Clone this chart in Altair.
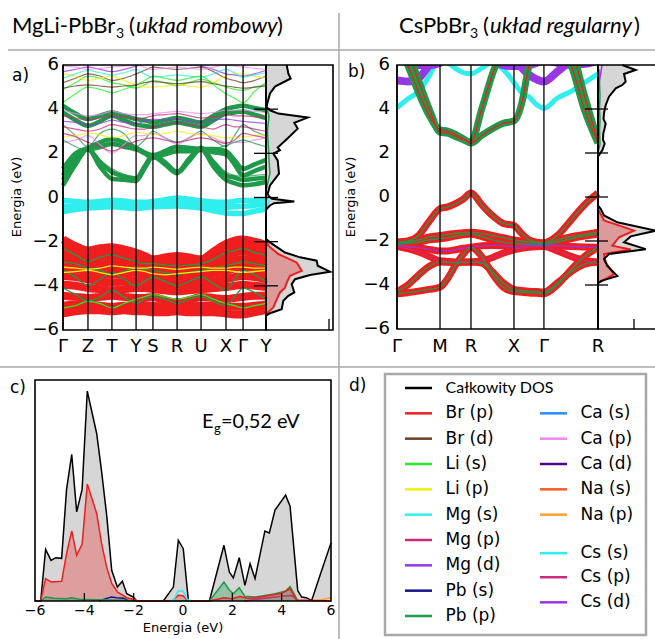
import altair as alt
import pandas as pd

# ---------------- orbital palette (legend order) ----------------
orbitals = ["Całkowity DOS", "Br (p)", "Br (d)", "Li (s)", "Li (p)", "Mg (s)", "Mg (p)", "Mg (d)",
            "Pb (s)", "Pb (p)", "Ca (s)", "Ca (p)", "Ca (d)", "Na (s)", "Na (p)", "Cs (s)", "Cs (p)", "Cs (d)"]
orbital_colors = ["#000000", "#f01e1e", "#6b4024", "#22ee22", "#f2f200", "#30eeee", "#cc2a7a", "#9a35e6",
                  "#14148c", "#1e9a4a", "#2a8cff", "#ee88ee", "#4a0a8a", "#ff5a28", "#ffa030", "#30eeee",
                  "#cc2a7a", "#9a35e6"]
C = dict(zip(orbitals, orbital_colors))
legend_left = orbitals[:10]
legend_right = orbitals[10:]
legend_right_slots = [1, 2, 3, 4, 5, 6.52, 7.47, 8.46]

# ---------------- panel a: MgLi-PbBr3, k-path ----------------
a_path_labels = ["Γ", "Z", "T", "Y", "S", "R", "U", "X", "Γ", "Y"]
a_path_k = [0.000, 0.123, 0.241, 0.360, 0.443, 0.562, 0.680, 0.803, 0.887, 1.000]
a_k = [0.000, 0.062, 0.123, 0.182, 0.241, 0.300, 0.360, 0.401, 0.443, 0.502,
       0.562, 0.621, 0.680, 0.741, 0.803, 0.845, 0.887, 0.943, 1.000]

# Br(p) valence bands (fat bands)
a_br_p = [
    [-1.9, -2.2, -2.4, -2.3, -2.25, -2.35, -2.5, -2.65, -2.8, -2.72, -2.65, -2.72, -2.8, -2.45, -2.1, -1.95, -1.9, -2.0, -2.15],
    [-2.15, -2.35, -2.55, -2.5, -2.45, -2.55, -2.65, -2.8, -2.95, -2.9, -2.85, -2.9, -2.95, -2.65, -2.35, -2.2, -2.15, -2.25, -2.4],
    [-2.45, -2.6, -2.75, -2.8, -2.8, -2.85, -2.9, -3.0, -3.1, -3.1, -3.05, -3.1, -3.1, -2.9, -2.65, -2.5, -2.45, -2.55, -2.7],
    [-2.8, -2.9, -3.05, -3.1, -3.15, -3.15, -3.15, -3.2, -3.3, -3.35, -3.35, -3.3, -3.3, -3.15, -3.0, -2.85, -2.8, -2.9, -3.0],
    [-3.15, -3.25, -3.35, -3.45, -3.5, -3.45, -3.4, -3.5, -3.6, -3.65, -3.7, -3.6, -3.55, -3.45, -3.35, -3.2, -3.15, -3.25, -3.35],
    [-3.55, -3.6, -3.7, -3.8, -3.85, -3.8, -3.75, -3.8, -3.85, -3.95, -4.0, -3.9, -3.85, -3.8, -3.7, -3.6, -3.55, -3.6, -3.7],
    [-3.95, -4.0, -4.1, -4.15, -4.2, -4.15, -4.1, -4.1, -4.15, -4.2, -4.25, -4.2, -4.15, -4.1, -4.05, -4.0, -3.95, -4.0, -4.05],
    [-4.45, -4.5, -4.55, -4.5, -4.45, -4.5, -4.55, -4.55, -4.5, -4.65, -4.75, -4.65, -4.5, -4.55, -4.6, -4.55, -4.5, -4.45, -4.45],
    [-4.9, -4.85, -4.85, -4.9, -4.95, -4.9, -4.9, -4.9, -4.9, -4.95, -5.0, -4.95, -4.9, -4.9, -4.95, -4.95, -4.95, -4.9, -4.85],
    [-5.25, -5.15, -5.1, -5.1, -5.15, -5.1, -5.15, -5.15, -5.2, -5.2, -5.15, -5.2, -5.2, -5.2, -5.25, -5.3, -5.3, -5.2, -5.1],
]
# thin lines running through the valence block
a_valence_thin_orb = ["Pb (p)", "Pb (p)", "Pb (p)", "Li (s)", "Li (p)", "Li (p)", "Pb (p)"]
a_valence_thin = [
    [-3.3, -3.6, -4.0, -3.7, -3.4, -3.7, -4.0, -3.8, -3.6, -3.8, -4.0, -3.8, -3.6, -3.9, -4.2, -3.7, -3.3, -3.5, -3.8],
    [-4.1, -4.4, -4.7, -4.5, -4.2, -4.5, -4.8, -4.6, -4.5, -4.6, -4.8, -4.6, -4.5, -4.7, -4.9, -4.5, -4.1, -4.3, -4.6],
    [-2.9, -3.0, -3.2, -3.3, -3.5, -3.35, -3.2, -3.25, -3.3, -3.4, -3.5, -3.4, -3.3, -3.2, -3.1, -3.0, -2.9, -3.0, -3.1],
    [-5.0, -4.9, -4.7, -4.8, -5.0, -4.8, -4.6, -4.5, -4.4, -4.5, -4.6, -4.5, -4.4, -4.6, -4.8, -4.9, -5.0, -4.9, -4.8],
    [-3.4, -3.35, -3.3, -3.4, -3.5, -3.4, -3.3, -3.35, -3.45, -3.5, -3.45, -3.4, -3.35, -3.3, -3.3, -3.35, -3.4, -3.35, -3.3],
    [-3.15, -3.2, -3.25, -3.2, -3.1, -3.15, -3.2, -3.2, -3.15, -3.2, -3.25, -3.2, -3.15, -3.2, -3.2, -3.15, -3.15, -3.2, -3.2],
    [-2.3, -2.6, -2.9, -2.7, -2.6, -2.75, -2.9, -3.0, -3.0, -3.05, -3.1, -3.05, -3.0, -2.8, -2.5, -2.4, -2.3, -2.5, -2.6],
]
# Mg(s) bands just below the Fermi level
a_mg_s = [
    [-0.12, -0.18, -0.22, -0.18, -0.12, -0.16, -0.22, -0.22, -0.18, -0.1, -0.02, -0.08, -0.15, -0.2, -0.22, -0.17, -0.12, -0.14, -0.16],
    [-0.4, -0.38, -0.34, -0.3, -0.28, -0.3, -0.34, -0.34, -0.3, -0.26, -0.22, -0.28, -0.34, -0.4, -0.45, -0.42, -0.4, -0.36, -0.3],
    [-0.65, -0.55, -0.48, -0.44, -0.42, -0.45, -0.5, -0.46, -0.42, -0.4, -0.38, -0.42, -0.48, -0.6, -0.7, -0.72, -0.72, -0.62, -0.52],
]
# Pb(p) conduction bands (fat bands)
a_pb_p = [
    [0.55, 1.5, 2.2, 1.4, 0.85, 0.8, 0.75, 1.3, 1.85, 1.5, 1.1, 1.65, 2.2, 1.4, 0.8, 0.65, 0.55, 0.6, 0.7],
    [0.8, 1.7, 2.2, 1.6, 1.15, 0.95, 0.85, 1.4, 1.9, 1.6, 1.15, 1.75, 2.25, 1.6, 1.0, 0.9, 0.8, 0.85, 0.9],
    [1.3, 2.0, 2.25, 2.5, 2.65, 2.5, 2.25, 2.05, 1.9, 2.1, 2.3, 2.25, 2.2, 2.2, 2.1, 1.7, 1.3, 1.5, 1.7],
    [1.0, 1.8, 2.2, 2.3, 2.45, 2.3, 2.2, 2.0, 1.8, 1.95, 2.1, 2.1, 2.15, 2.05, 1.95, 1.5, 1.0, 1.2, 1.4],
    [4.15, 3.8, 3.55, 3.7, 3.85, 3.7, 3.55, 3.5, 3.4, 3.5, 3.6, 3.5, 3.4, 3.7, 4.0, 4.1, 4.15, 4.05, 3.95],
    [3.85, 3.5, 3.25, 3.45, 3.7, 3.5, 3.3, 3.25, 3.2, 3.3, 3.4, 3.3, 3.2, 3.5, 3.8, 3.85, 3.9, 3.75, 3.6],
]
# thin conduction lines
a_cond_thin_orb = ["Pb (p)", "Mg (p)", "Mg (p)", "Ca (p)", "Mg (d)", "Li (p)", "Ca (p)",
                   "Br (d)", "Li (s)", "Li (p)", "Mg (d)", "Ca (p)", "Mg (s)", "Li (s)", "Br (d)",
                   "Pb (p)", "Pb (p)", "Mg (p)"]
a_cond_thin = [
    [3.3, 2.8, 2.3, 2.9, 3.1, 2.9, 2.3, 2.6, 3.0, 2.7, 2.5, 2.7, 3.0, 2.6, 2.3, 2.8, 3.3, 3.0, 2.8],
    [3.7, 3.6, 3.5, 3.6, 3.7, 3.65, 3.55, 3.6, 3.7, 3.75, 3.8, 3.7, 3.6, 3.65, 3.75, 3.7, 3.7, 3.65, 3.6],
    [3.2, 3.1, 3.0, 3.1, 3.3, 3.2, 3.1, 3.1, 3.2, 3.3, 3.4, 3.3, 3.2, 3.1, 3.3, 3.2, 3.2, 3.1, 3.0],
    [2.5, 2.6, 2.8, 2.4, 2.0, 2.4, 2.8, 2.8, 2.9, 2.7, 2.4, 2.7, 2.9, 2.7, 2.5, 2.5, 2.5, 2.6, 2.7],
    [3.45, 3.4, 3.3, 3.35, 3.5, 3.4, 3.35, 3.45, 3.55, 3.5, 3.55, 3.45, 3.4, 3.5, 3.55, 3.5, 3.45, 3.4, 3.35],
    [2.75, 2.8, 2.9, 2.85, 2.7, 2.8, 2.95, 2.9, 2.85, 2.9, 3.0, 2.9, 2.85, 2.8, 2.7, 2.75, 2.75, 2.8, 2.85],
    [3.95, 3.8, 3.7, 3.75, 3.9, 3.8, 3.75, 3.75, 3.8, 3.85, 3.9, 3.85, 3.8, 3.85, 3.95, 3.95, 3.95, 3.9, 3.85],
    [5.2, 5.4, 5.6, 5.5, 5.3, 5.4, 5.6, 5.75, 5.9, 5.85, 5.8, 5.85, 5.9, 5.7, 5.4, 5.3, 5.2, 5.3, 5.5],
    [4.9, 5.2, 5.5, 5.4, 5.2, 5.1, 4.95, 5.1, 5.3, 5.2, 5.05, 5.2, 5.35, 5.2, 5.0, 4.9, 4.85, 5.0, 5.1],
    [5.6, 5.5, 5.3, 5.4, 5.5, 5.3, 5.1, 5.0, 5.0, 5.05, 5.1, 5.05, 5.0, 5.2, 5.5, 5.6, 5.6, 5.5, 5.4],
    [5.7, 5.8, 5.9, 5.8, 5.7, 5.8, 5.95, 6.05, 6.1, 6.05, 6.0, 6.0, 5.95, 5.8, 5.6, 5.55, 5.5, 5.6, 5.75],
    [5.95, 5.9, 5.8, 5.85, 5.9, 5.95, 6.0, 5.9, 5.8, 5.85, 5.9, 5.85, 5.8, 5.9, 6.0, 5.95, 5.9, 5.85, 5.8],
    [5.4, 5.6, 5.75, 5.65, 5.55, 5.65, 5.8, 5.6, 5.45, 5.5, 5.55, 5.5, 5.45, 5.6, 5.8, 5.65, 5.45, 5.55, 5.65],
    [4.3, 4.7, 5.0, 4.9, 4.75, 4.9, 5.1, 5.3, 5.5, 5.4, 5.3, 5.4, 5.5, 5.1, 4.7, 4.5, 4.3, 4.8, 5.2],
    [4.95, 5.05, 5.1, 5.05, 5.0, 5.05, 5.1, 5.2, 5.25, 5.2, 5.15, 5.2, 5.25, 5.15, 5.05, 5.0, 4.95, 5.0, 5.05],
    [0.95, 1.75, 2.1, 1.7, 1.3, 1.05, 0.95, 1.45, 1.8, 1.55, 1.25, 1.8, 2.1, 1.7, 1.15, 1.0, 0.95, 1.0, 1.05],
    [2.6, 2.3, 2.1, 2.2, 2.35, 2.25, 2.1, 2.05, 2.0, 2.15, 2.35, 2.3, 2.1, 2.2, 2.35, 2.5, 2.6, 2.45, 2.3],
    [2.9, 2.75, 2.5, 2.3, 2.1, 2.3, 2.55, 2.65, 2.7, 2.6, 2.5, 2.6, 2.7, 2.6, 2.45, 2.6, 2.9, 2.8, 2.7],
]
# projected DOS next to the bands
a_dos_total_E = [-5.35, -5.24, -5.06, -4.68, -4.45, -4.30, -3.92, -3.70, -3.51, -3.36, -3.09, -2.86, -2.71,
                 -2.49, -2.03, -1.88, -0.60, -0.51, -0.36, -0.26, -0.18, -0.06, 0.05, 0.17, 0.55, 1.08, 1.68,
                 1.99, 2.14, 2.26, 2.71, 3.12, 3.38, 3.62, 3.80, 3.95, 4.10, 4.33, 4.71, 5.02, 5.39, 5.62, 6.0]
a_dos_total = [0, 4, 15.7, 17.3, 22.3, 28.3, 25.7, 29, 44, 64, 51.7, 50.7, 34,
               19, 4, 0, 0, 0.7, 4, 8, 28.3, 6, 3, 1.7, 4, 13, 11.7,
               7.3, 14, 11.7, 22.3, 31.7, 28.3, 41.7, 12.3, 4, 0.5, 1.7, 4, 9, 24.7, 22.3, 20.7]
a_dos_brp_E = [-5.3, -5.24, -4.98, -4.61, -4.30, -4.08, -3.85, -3.55, -3.32, -2.94, -2.56, -2.18, -1.88]
a_dos_brp = [0, 1, 7.3, 10.7, 14, 19, 20.7, 24, 35.7, 30.7, 12.3, 2.3, 0]
a_dos_pbp_E = [0.3, 0.6, 1.1, 1.7, 2.2, 3.0, 3.7, 4.0, 4.3]
a_dos_pbp = [0, 1.5, 4, 3, 2.5, 1.5, 3, 1, 0]
a_dos_mgs_E = [-0.5, -0.2, 0.1]
a_dos_mgs = [0, 3, 0]

# ---------------- panel b: CsPbBr3 ----------------
b_path_labels = ["Γ", "M", "R", "X", "Γ", "R"]
b_path_k = [0.0, 0.214, 0.368, 0.582, 0.731, 1.0]
b_k = [0.0, 0.0535, 0.107, 0.1605, 0.214, 0.2525, 0.291, 0.3295, 0.368, 0.4215, 0.475,
       0.5285, 0.582, 0.619, 0.657, 0.694, 0.731, 0.798, 0.866, 0.933, 1.0]
b_valence = [
    [-2.05, -2.0, -1.75, -1.1, -0.53, -0.45, -0.3, -0.1, 0.18, -0.35, -0.85, -1.2, -1.3, -1.65, -1.95, -2.05, -2.08, -1.75, -1.05, -0.35, 0.18],
    [-2.1, -2.05, -1.95, -1.82, -1.75, -1.7, -1.66, -1.62, -1.6, -1.65, -1.75, -1.85, -1.95, -2.0, -2.05, -2.08, -2.1, -1.95, -1.8, -1.7, -1.6],
    [-2.15, -2.1, -2.05, -1.95, -1.9, -1.85, -1.78, -1.72, -1.68, -1.8, -1.95, -2.05, -2.1, -2.12, -2.14, -2.15, -2.15, -2.05, -1.9, -1.78, -1.68],
    [-2.2, -2.25, -2.3, -2.38, -2.45, -2.45, -2.4, -2.33, -2.28, -2.22, -2.2, -2.22, -2.25, -2.23, -2.21, -2.2, -2.2, -2.22, -2.25, -2.27, -2.28],
    [-2.25, -2.35, -2.5, -2.7, -2.9, -2.93, -2.95, -2.95, -2.95, -2.9, -2.75, -2.55, -2.4, -2.33, -2.28, -2.26, -2.25, -2.45, -2.7, -2.88, -2.95],
    [-4.3, -4.0, -3.55, -3.15, -2.95, -2.97, -2.98, -2.97, -2.95, -3.0, -3.4, -3.9, -4.2, -4.25, -4.28, -4.3, -4.32, -3.9, -3.4, -3.05, -2.95],
    [-4.4, -4.35, -4.28, -4.2, -4.1, -3.7, -3.1, -2.6, -2.3, -2.7, -3.5, -4.1, -4.3, -4.33, -4.36, -4.38, -4.4, -4.0, -3.3, -2.7, -2.3],
]
b_valence_line_orb = ["Pb (p)", "Pb (p)", "Pb (p)", "Cs (d)", "Cs (p)", "Pb (p)", "Pb (p)"]
b_pb_p = [
    [7.0, 6.0, 4.75, 3.7, 3.05, 3.0, 2.85, 2.65, 2.45, 2.8, 3.1, 3.35, 3.45, 4.2, 6.0, 7.0, 7.5, 7.0, 6.0, 3.95, 2.45],
    [7.5, 6.6, 5.3, 4.0, 2.95, 2.9, 2.75, 2.6, 2.5, 4.0, 5.6, 6.8, 7.8, 7.8, 7.6, 7.5, 7.5, 7.6, 6.8, 4.6, 2.5],
]
b_cs_s = [[4.05, 4.45, 4.8, 5.5, 6.3, 6.1, 5.85, 5.65, 5.6, 5.85, 6.1, 5.8, 5.2, 4.75, 4.55, 4.2, 4.03, 4.5, 4.8, 5.2, 5.6]]
b_cs_d = [
    [5.3, 5.25, 5.4, 6.0, 6.5, 6.7, 6.8, 6.9, 7.0, 6.9, 6.6, 6.4, 6.3, 5.9, 5.55, 5.35, 5.25, 5.7, 6.2, 6.6, 7.0],
    [6.3, 6.1, 6.0, 6.0, 6.1, 6.3, 6.5, 6.6, 6.7, 6.5, 6.2, 6.0, 5.95, 5.95, 6.0, 6.1, 6.2, 6.1, 6.0, 6.05, 6.2],
]
b_dos_total_E = [-3.92, -3.81, -3.59, -3.13, -2.82, -2.59, -2.37, -2.06, -1.79, -1.53, -1.15, -0.84, -0.54,
                 -0.39, 1.85, 1.90, 2.12, 2.43, 2.6, 2.89, 3.1, 3.34, 3.55, 3.80, 4.18, 4.56, 4.94, 5.09,
                 5.24, 5.59, 5.77, 6.0]
b_dos_total = [0, 3.3, 19.3, 9.3, 6, 11, 47.7, 26, 32.7, 58, 19.3, 6, 2.7,
               0, 0, 1, 4.3, 6.7, 5, 5.3, 6.5, 7.7, 5.5, 6, 7.7, 11, 17.7, 24.3,
               27.7, 26, 37.7, 24.3]
b_dos_brp_E = [-3.9, -3.81, -3.51, -2.98, -2.59, -2.39, -2.21, -1.83, -1.53, -1.07, -0.54]
b_dos_brp = [0, 4.3, 16, 7.7, 6, 32.7, 14.3, 21, 36, 6, 0]
b_dos_pbp_E = [2.0, 2.4, 3.0, 3.5, 4.0, 4.6, 5.2, 5.8]
b_dos_pbp = [0, 2, 1.5, 2, 1.5, 2, 1.5, 1]
b_dos_csd_E = [4.8, 5.3, 5.7, 6.0]
b_dos_csd = [0, 1.5, 3, 4]

# ---------------- panel c: DOS of MgLi-PbBr3 ----------------
c_total_E = [-6.0, -5.77, -5.57, -5.35, -5.16, -4.92, -4.72, -4.51, -4.31, -4.09, -3.88, -3.5, -3.30, -3.09,
             -2.89, -2.66, -2.46, -2.28, -2.01, -1.88, -0.8, -0.39, -0.19, 0.01, 0.22, 1.07, 1.66, 1.88,
             2.04, 2.28, 2.51, 2.72, 2.92, 3.32, 3.50, 3.73, 4.16, 4.34, 4.65, 4.81, 4.99, 5.22, 5.58, 6.0]
c_total = [0, 0, 23.3, 18.4, 19.6, 19.3, 50.5, 66.3, 40.3, 50.5, 95.0, 75.8, 58.5, 38.4,
           13.9, 6.3, 8.9, 3.3, 1.8, 0, 0, 6.3, 27.5, 23.7, 0, 0, 25.2, 13.1,
           10.4, 19.6, 7.1, 16.9, 10.1, 31.7, 30.8, 41.1, 47.9, 42.9, 4.8, 1.8, 1.5, 0.3, 12.4, 26.3]
c_brp_E = [-6.0, -5.77, -5.57, -5.35, -4.92, -4.72, -4.51, -4.31, -4.09, -3.88, -3.5, -3.30, -3.09, -2.89,
           -2.66, -2.28, -1.95, -1.85, -0.45, -0.19, 0.0, 0.2, 1.07, 1.66, 2.0, 2.3, 2.6, 3.0, 3.5,
           4.0, 4.34, 4.6, 6.0]
c_brp = [0, 0, 10.1, 8.6, 8.9, 21.5, 31.7, 20.7, 25.7, 52.9, 39.6, 26.0, 15.1, 7.9,
         4.1, 1.5, 0.6, 0, 0, 2.6, 2.4, 0, 0, 1.5, 1.0, 2.0, 1.2, 1.5, 2.5,
         3.5, 5.5, 0.5, 0]
c_pbp_E = [-5.77, -5.57, -5.2, -4.72, -4.51, -4.2, -3.5, -2.9, -2.3, -1.9, 1.07, 1.66, 1.88, 2.04, 2.28,
           2.51, 2.92, 3.32, 3.73, 4.16, 4.34, 4.65]
c_pbp = [0, 1.8, 1.2, 1.0, 1.5, 0.8, 0.6, 0.5, 0.3, 0, 0, 8.6, 5, 3.3, 6.0,
         2.1, 1.8, 2.5, 3.3, 4.5, 6.6, 0.3]
c_mgs_E = [-0.5, -0.35, -0.2, 0.0, 0.15, 0.3]
c_mgs = [0, 1, 4.5, 4.5, 1, 0]
c_pbs_E = [-3.4, -3.1, -2.9, -2.7, -2.4, -2.2]
c_pbs = [0, 1.2, 1.8, 1.5, 1.2, 0]
c_mgp_E = [2.5, 3.0, 3.5, 4.0, 4.4, 4.7]
c_mgp = [0, 0.8, 1.5, 2.2, 2.5, 0]
c_nap_E = [5.2, 5.6, 6.0]
c_nap = [0, 0.6, 1.5]
c_ticks = [-6, -4, -2, 0, 2, 4, 6]
energy_ticks = [6, 4, 2, 0, -2, -4, -6]

# ---------------- helpers ----------------
SANS = "DejaVu Sans"
NARROW = "Lato"
GRAY_FILL = "#d6d6d6"


def sc(dom, rng):
    return alt.Scale(domain=dom, range=rng, nice=False, zero=False)


def lab(v):
    return str(v).replace("-", "\u2212")


XA, YA, XDA = sc([0, 1], [63, 266]), sc([-6, 6], [330, 65]), sc([0, 67], [266, 333])
XB, YB, XDB = sc([0, 1], [397, 598]), sc([-6, 6], [329, 65]), sc([0, 55], [598, 653])
XC, YC = sc([-6, 6], [35, 331]), sc([0, 100], [601, 380])
XL, YL = sc([0, 1], [405, 540]), sc([0, 9], [388, 616])


def band_table(kgrid, bands, orbs=None):
    rows = []
    for i, vals in enumerate(bands):
        for k, e in zip(kgrid, vals):
            rows.append({"k": k, "E": e, "band": i, "orb": orbs[i] if orbs else ""})
    return pd.DataFrame(rows)


def bands(kgrid, vals, xs, ys, width, color=None, orbs=None, opacity=1.0):
    df = band_table(kgrid, vals, orbs)
    enc = dict(x=alt.X("k:Q", scale=xs, axis=None), y=alt.Y("E:Q", scale=ys, axis=None),
               detail="band:N", order="k:Q")
    if orbs:
        enc["color"] = alt.Color("orb:N", scale=alt.Scale(domain=orbitals, range=orbital_colors), legend=None)
        mark = alt.Chart(df).mark_line(strokeWidth=width, interpolate="monotone", opacity=opacity)
    else:
        mark = alt.Chart(df).mark_line(strokeWidth=width, interpolate="monotone", color=color, opacity=opacity)
    return mark.encode(**enc)


def hdos_area(E, v, xs, ys, fill, opacity=1.0):
    df = pd.DataFrame({"E": E, "v": v})
    return alt.Chart(df).mark_area(orient="horizontal", color=fill, opacity=opacity).encode(
        x=alt.X("v:Q", scale=xs, axis=None, stack=None), y=alt.Y("E:Q", scale=ys, axis=None))


def hdos_line(E, v, xs, ys, color, width):
    df = pd.DataFrame({"E": E, "v": v})
    return alt.Chart(df).mark_line(color=color, strokeWidth=width).encode(
        x=alt.X("v:Q", scale=xs, axis=None), y=alt.Y("E:Q", scale=ys, axis=None), order="E:Q")


def vdos_area(E, v, fill, opacity=1.0):
    df = pd.DataFrame({"E": E, "v": v})
    return alt.Chart(df).mark_area(color=fill, opacity=opacity).encode(
        x=alt.X("E:Q", scale=XC, axis=None), y=alt.Y("v:Q", scale=YC, axis=None, stack=None))


def vdos_line(E, v, color, width=1.5):
    df = pd.DataFrame({"E": E, "v": v})
    return alt.Chart(df).mark_line(color=color, strokeWidth=width).encode(
        x=alt.X("E:Q", scale=XC, axis=None), y=alt.Y("v:Q", scale=YC, axis=None))


def frame(x0, x1, y0, y1, xs, ys, width=1.6):
    df = pd.DataFrame({"x0": [x0], "x1": [x1], "y0": [y0], "y1": [y1]})
    return alt.Chart(df).mark_rect(fillOpacity=0, stroke="black", strokeWidth=width).encode(
        x=alt.X("x0:Q", scale=xs, axis=None), x2="x1", y=alt.Y("y0:Q", scale=ys, axis=None), y2="y1")


def mask(x0, x1, y0, y1, xs, ys):
    df = pd.DataFrame({"x0": [x0], "x1": [x1], "y0": [y0], "y1": [y1]})
    return alt.Chart(df).mark_rect(color="white").encode(
        x=alt.X("x0:Q", scale=xs, axis=None), x2="x1", y=alt.Y("y0:Q", scale=ys, axis=None), y2="y1")


def kpoint_rules(kpos, xs, ys):
    df = pd.DataFrame({"k": kpos, "lo": -6, "hi": 6})
    return alt.Chart(df).mark_rule(color="black", strokeWidth=1.3).encode(
        x=alt.X("k:Q", scale=xs, axis=None), y=alt.Y("lo:Q", scale=ys, axis=None), y2="hi")


def kpoint_labels(kpos, labels, xs):
    df = pd.DataFrame({"k": kpos, "t": labels})
    return alt.Chart(df).mark_text(fontSize=18, font=SANS, baseline="alphabetic").encode(
        x=alt.X("k:Q", scale=xs, axis=None), y=alt.value(352), text="t:N")


def energy_labels(ys, xpix):
    df = pd.DataFrame({"E": energy_ticks, "t": [lab(v) for v in energy_ticks]})
    return alt.Chart(df).mark_text(fontSize=18, font=SANS, align="right", baseline="middle").encode(
        x=alt.value(xpix), y=alt.Y("E:Q", scale=ys, axis=None), text="t:N")


def mid_ticks(ys, x0, x1):
    df = pd.DataFrame({"E": [4, 2, 0, -2, -4]})
    return alt.Chart(df).mark_rule(color="black", strokeWidth=1.3).encode(
        x=alt.value(x0), x2=alt.value(x1), y=alt.Y("E:Q", scale=ys, axis=None))


def text(t, x, y, size, font=SANS, style="normal", align="left", angle=0, color="black"):
    props = dict(text=t, fontSize=size, font=font, fontStyle=style, align=align, baseline="alphabetic", color=color)
    if angle:
        props["angle"] = angle
        props["baseline"] = "middle"
        props["align"] = "center"
    return alt.Chart(pd.DataFrame({"a": [0]})).mark_text(**props).encode(x=alt.value(x), y=alt.value(y))


def hline(x0, x1, y, color="#a8a8a8", width=1.5):
    return alt.Chart(pd.DataFrame({"a": [0]})).mark_rule(color=color, strokeWidth=width).encode(
        x=alt.value(x0), x2=alt.value(x1), y=alt.value(y))


def vline(x, y0, y1, color="#a8a8a8", width=1.5):
    return alt.Chart(pd.DataFrame({"a": [0]})).mark_rule(color=color, strokeWidth=width).encode(
        x=alt.value(x), y=alt.value(y0), y2=alt.value(y1))


layers = []

# ---------------- panel a ----------------
layers += [
    bands(a_k, a_br_p, XA, YA, 8, color=C["Br (p)"]),
    bands(a_k, a_valence_thin, XA, YA, 1.3, orbs=a_valence_thin_orb),
    bands(a_k, a_mg_s, XA, YA, 5.5, color=C["Mg (s)"]),
    bands(a_k, a_pb_p, XA, YA, 4.5, color=C["Pb (p)"]),
    bands(a_k, a_cond_thin, XA, YA, 1.2, orbs=a_cond_thin_orb, opacity=0.75),
    mask(-0.05, 1.0, 6, 8.5, XA, YA),
    kpoint_rules(a_path_k, XA, YA),
    hdos_area(a_dos_total_E, a_dos_total, XDA, YA, GRAY_FILL),
    hdos_area(a_dos_brp_E, a_dos_brp, XDA, YA, "#dc9a9a"),
    hdos_line(a_dos_pbp_E, a_dos_pbp, XDA, YA, C["Pb (p)"], 1.5),
    hdos_line(a_dos_mgs_E, a_dos_mgs, XDA, YA, C["Mg (s)"], 1.5),
    hdos_line(a_dos_brp_E, a_dos_brp, XDA, YA, C["Br (p)"], 2),
    hdos_line(a_dos_total_E, a_dos_total, XDA, YA, "black", 2),
    frame(0, 1, -6, 6, XA, YA),
    frame(0, 67, -6, 6, XDA, YA),
    mid_ticks(YA, 254, 278),
    alt.Chart(pd.DataFrame({"v": [63], "lo": [-6], "hi": [-5.5]})).mark_rule(color="black", strokeWidth=1.3).encode(
        x=alt.X("v:Q", scale=XDA, axis=None), y=alt.Y("lo:Q", scale=YA, axis=None), y2="hi"),
    energy_labels(YA, 59),
    kpoint_labels(a_path_k, a_path_labels, XA),
    text("Energia (eV)", 17, 197, 13, angle=270),
    text("a)", 12, 81, 17),
]

# ---------------- panel b ----------------
layers += [
    bands(b_k, b_valence, XB, YB, 7, color=C["Br (p)"]),
    bands(b_k, b_valence, XB, YB, 1.3, orbs=b_valence_line_orb),
    bands(b_k, b_cs_s, XB, YB, 5, color=C["Cs (s)"]),
    bands(b_k, b_cs_d, XB, YB, 8, color=C["Cs (d)"]),
    bands(b_k, b_pb_p, XB, YB, 7, color=C["Pb (p)"]),
    bands(b_k, b_pb_p, XB, YB, 1.2, color=C["Br (p)"]),
    mask(-0.05, 1.03, 6, 9, XB, YB),
    kpoint_rules(b_path_k, XB, YB),
    hdos_area(b_dos_total_E, b_dos_total, XDB, YB, GRAY_FILL),
    hdos_area(b_dos_brp_E, b_dos_brp, XDB, YB, "#dc9a9a"),
    hdos_line(b_dos_pbp_E, b_dos_pbp, XDB, YB, C["Pb (p)"], 1.5),
    hdos_line(b_dos_csd_E, b_dos_csd, XDB, YB, C["Cs (d)"], 1.5),
    hdos_line(b_dos_brp_E, b_dos_brp, XDB, YB, C["Br (p)"], 2),
    hdos_line(b_dos_total_E, b_dos_total, XDB, YB, "black", 2),
    frame(0, 1, -6, 6, XB, YB),
    frame(0, 58, -6, 6, XDB, YB),
    mid_ticks(YB, 585, 608),
    alt.Chart(pd.DataFrame({"v": [36], "lo": [-6], "hi": [-5.55]})).mark_rule(color="black", strokeWidth=1.3).encode(
        x=alt.X("v:Q", scale=XDB, axis=None), y=alt.Y("lo:Q", scale=YB, axis=None), y2="hi"),
    energy_labels(YB, 390),
    kpoint_labels(b_path_k, b_path_labels, XB),
    text("Energia (eV)", 351, 197, 13, angle=270),
    text("b)", 348, 77, 17),
]

# ---------------- panel c ----------------
layers += [
    vdos_area(c_total_E, c_total, GRAY_FILL),
    vdos_area(c_brp_E, c_brp, C["Br (p)"], 0.3),
    vdos_area(c_pbp_E, c_pbp, C["Pb (p)"], 0.35),
    vdos_line(c_total_E, c_total, "black"),
    vdos_line(c_pbs_E, c_pbs, C["Pb (s)"]),
    vdos_line(c_mgp_E, c_mgp, C["Mg (p)"]),
    vdos_line(c_nap_E, c_nap, C["Na (p)"]),
    vdos_line(c_pbp_E, c_pbp, C["Pb (p)"]),
    vdos_line(c_brp_E, c_brp, C["Br (p)"]),
    vdos_line(c_mgs_E, c_mgs, C["Mg (s)"]),
    alt.Chart(pd.DataFrame({"E": [-4, -2, 2, 4], "lo": 0, "hi": 3.6})).mark_rule(color="black", strokeWidth=1.2).encode(
        x=alt.X("E:Q", scale=XC, axis=None), y=alt.Y("lo:Q", scale=YC, axis=None), y2="hi"),
    frame(-6, 6, 0, 100, XC, YC),
    alt.Chart(pd.DataFrame({"E": c_ticks, "t": [lab(v) for v in c_ticks]})).mark_text(
        fontSize=14, font=SANS, baseline="alphabetic").encode(
        x=alt.X("E:Q", scale=XC, axis=None), y=alt.value(615), text="t:N"),
    text("Energia (eV)", 183, 632, 13, align="center"),
    text("c)", 10, 393, 17),
    text("E", 202, 428, 20, font=NARROW),
    text("g", 214, 433, 13, font=NARROW),
    text("=0,52 eV", 221, 428, 20, font=NARROW),
]

# ---------------- panel d: legend ----------------
leg = pd.DataFrame({
    "name": legend_left + legend_right,
    "col": [0.0] * len(legend_left) + [1.0] * len(legend_right),
    "slot": list(range(len(legend_left))) + legend_right_slots,
})
leg["x_end"] = leg["col"] + 0.2
leg["x_txt"] = leg["col"] + 0.3
leg_main = leg[leg["name"] != "Całkowity DOS"]
leg_total = leg[leg["name"] == "Całkowity DOS"]
layers += [
    alt.Chart(pd.DataFrame({"a": [0]})).mark_rect(fill="white", stroke="#a8a8a8", strokeWidth=2.5).encode(
        x=alt.value(385), x2=alt.value(646), y=alt.value(374), y2=alt.value(635)),
    alt.Chart(leg).mark_rule(strokeWidth=2.5).encode(
        x=alt.X("col:Q", scale=XL, axis=None), x2="x_end",
        y=alt.Y("slot:Q", scale=YL, axis=None),
        color=alt.Color("name:N", scale=alt.Scale(domain=orbitals, range=orbital_colors), legend=None)),
    alt.Chart(leg_main).mark_text(fontSize=17, font=SANS, align="left", baseline="middle").encode(
        x=alt.X("x_txt:Q", scale=XL, axis=None), y=alt.Y("slot:Q", scale=YL, axis=None), text="name:N"),
    alt.Chart(leg_total).mark_text(fontSize=16, font=NARROW, align="left", baseline="middle").encode(
        x=alt.X("x_txt:Q", scale=XL, axis=None), y=alt.Y("slot:Q", scale=YL, axis=None), text="name:N"),
    text("d)", 349, 391, 17),
]

# ---------------- titles and separators ----------------
layers += [
    hline(8, 655, 50),
    vline(339, 13, 639),
    hline(0, 655, 367),
    text("MgLi-PbBr", 12, 33, 22, font=NARROW),
    text("3", 116, 38, 14, font=NARROW),
    text("(", 129, 33, 22, font=NARROW),
    text("układ rombowy", 136, 33, 22, font=NARROW, style="italic"),
    text(")", 277, 33, 22, font=NARROW),
    text("CsPbBr", 399, 33, 22, font=NARROW),
    text("3", 470, 38, 14, font=NARROW),
    text("(", 483, 33, 22, font=NARROW),
    text("układ regularny", 490, 33, 22, font=NARROW, style="italic"),
    text(")", 634, 33, 22, font=NARROW),
]

chart = alt.layer(*layers).resolve_scale(
    x="independent", y="independent", color="independent"
).properties(
    width=655, height=639, padding=0, background="white",
    autosize=alt.AutoSizeParams(type="none"),
).configure_view(strokeWidth=0)

chart.save("out.html", embed_options={"renderer": "svg", "actions": False})
